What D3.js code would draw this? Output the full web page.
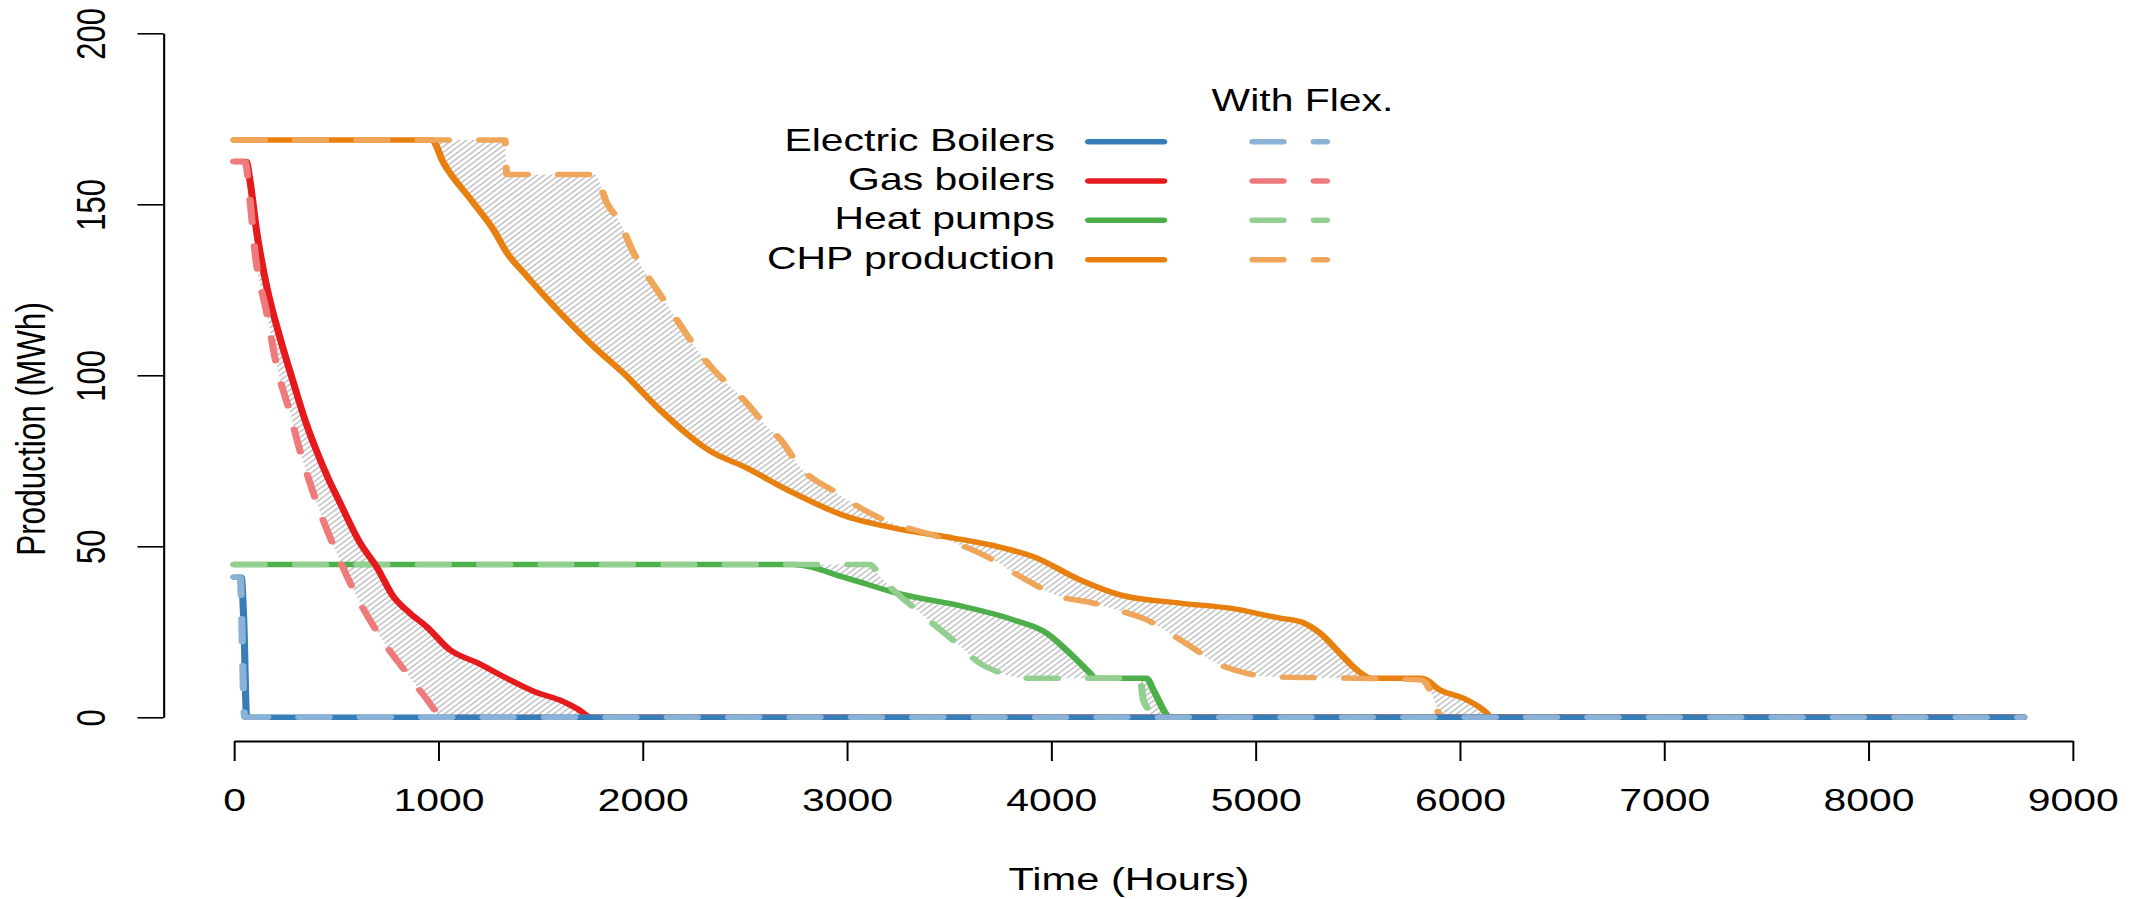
<!DOCTYPE html>
<html><head><meta charset="utf-8">
<script src="https://cdn.jsdelivr.net/npm/d3@7"></script>
<style>
body{margin:0;background:#fff}
svg{display:block;background:#fff}
text{font-family:"Liberation Sans",Arial,Helvetica,sans-serif;fill:#000}
</style>
</head><body>
<svg id="chart" width="2141" height="899"></svg>
<script>
// ---------------- data ----------------
const seriesNames = ["Electric Boilers", "Gas boilers", "Heat pumps", "CHP production"];
const flexTitle = "With Flex.";
const xTickValues = [0, 1000, 2000, 3000, 4000, 5000, 6000, 7000, 8000, 9000];
const yTickValues = [0, 50, 100, 150, 200];
const xTitle = "Time (Hours)";
const yTitle = "Production (MWh)";

// Electric boilers
const hoursEB      = [0, 35, 48, 62, 8760];
const ebBase       = [41, 41, 28, 0, 0];
const hoursEBFlex  = [0, 30, 52, 8760];
const ebFlex       = [41, 41, 0, 0];

// Gas boilers
const hoursGB      = [0, 60, 78, 111, 160, 225, 290, 350, 400, 460, 519, 617, 698, 780, 860, 943, 1057, 1188, 1351, 1470, 1596, 1680, 1750, 8760];
const gbBase       = [162.5, 162.5, 157, 142, 126, 111, 98, 86.5, 78.5, 70, 62.7, 51, 44, 35.3, 30.5, 26.5, 19.7, 16, 10.9, 7.5, 5, 2.5, 0, 0];
const hoursGBFlex  = [0, 54, 78, 103, 160, 209, 274, 318, 405, 503, 601, 715, 845, 992, 1005, 8760];
const gbFlex       = [162.5, 162.5, 151.5, 135.9, 118.3, 102.7, 89, 79, 62.7, 48, 35.3, 23.6, 12.9, 1.2, 0, 0];

// Heat pumps
const hoursHP      = [0, 2738, 2999, 3244, 3570, 3815, 3978, 4092, 4190, 4215, 4467, 4500, 4565, 4575, 8760];
const hpBase       = [44.7, 44.7, 40.7, 36.3, 32.4, 28.5, 24.6, 18.7, 12.9, 11.4, 11.4, 8, 0.7, 0, 0];
const hoursHPFlex  = [0, 3113, 3162, 3244, 3341, 3439, 3537, 3651, 3733, 3880, 4435, 4451, 4484, 4490, 8760];
const hpFlex       = [44.7, 44.7, 41.2, 36.3, 31.4, 26.5, 21.7, 15.8, 13.4, 11.4, 11.4, 5.1, 1.2, 0, 0];

// CHP production
const hoursCHP     = [0, 968, 1025, 1171, 1269, 1335, 1433, 1596, 1759, 1905, 2101, 2346, 2493, 2705, 2999, 3276, 3521, 3766, 3912, 4141, 4337, 4630, 4875, 5120, 5218, 5316, 5414, 5495, 5569, 5813, 5903, 6034, 6132, 6150, 8760];
const chpBase      = [168.8, 168.8, 162.2, 150.5, 142.7, 135.9, 129, 118.3, 108.5, 100.7, 89, 77.3, 73.4, 66.6, 58.7, 54.8, 52.4, 49.5, 47, 40.2, 35.8, 33.4, 31.9, 29, 28, 24.6, 18.7, 13.9, 11.4, 11.4, 8, 5.1, 1.2, 0, 0];
const hoursCHPFlex = [0, 1326, 1335, 1767, 1824, 1889, 1955, 2003, 2069, 2134, 2199, 2265, 2346, 2428, 2510, 2591, 2689, 2754, 2950, 3178, 3439, 3684, 3848, 4043, 4206, 4321, 4467, 4565, 4696, 4777, 4924, 5055, 5495, 5813, 5870, 5895, 5900, 8760];
const chpFlex      = [168.8, 168.8, 158.7, 158.7, 150.5, 144.7, 135.9, 131, 125.1, 119.3, 113.4, 107.6, 101.7, 96.8, 91.9, 86.1, 80.2, 74.4, 65.6, 57.8, 52.9, 47, 41.2, 35.3, 33.4, 31.4, 28.5, 25.1, 20.2, 16.8, 13.4, 11.9, 11.4, 10.9, 5.6, 1.2, 0, 0];

// ---------------- styling ----------------
const colBase = ["#377EB8", "#E41A1C", "#4DAF4A", "#E8800F"];
const colFlex = ["#8AB2D6", "#EF7A7C", "#94CF92", "#F0A65A"];
const SX = 1.32;               // horizontal stretch of the reference picture
const px = v => v / SX;        // pixel x -> drawing x
const LW = 5.4;
const DASH = "23,23.5";
const FONT = 31;

const zip = (h, v) => h.map((d, i) => [d, v[i]]);
const base = [zip(hoursEB, ebBase), zip(hoursGB, gbBase), zip(hoursHP, hpBase), zip(hoursCHP, chpBase)];
const flex = [zip(hoursEBFlex, ebFlex), zip(hoursGBFlex, gbFlex), zip(hoursHPFlex, hpFlex), zip(hoursCHPFlex, chpFlex)];

const svg = d3.select("#chart");
svg.append("rect").attr("width", 2141).attr("height", 899).attr("fill", "#fff");
const defs = svg.append("defs");
const pat = defs.append("pattern").attr("id", "hatch")
  .attr("patternUnits", "userSpaceOnUse").attr("width", 10).attr("height", 3.9)
  .attr("patternTransform", "rotate(-45)");
pat.append("line").attr("x1", -1).attr("x2", 11).attr("y1", 1.95).attr("y2", 1.95)
  .attr("stroke", "#b2b2b2").attr("stroke-width", 1.1);

const g = svg.append("g").attr("transform", `scale(${SX},1)`);

const x = d3.scaleLinear().domain([0, 9000]).range([px(234), px(2072.7)]);
const y = d3.scaleLinear().domain([0, 200]).range([717.3, 33.3]);
const line = d3.line().x(d => x(d[0])).y(d => y(d[1])).curve(d3.curveMonotoneX);

// hatched differences (gas, heat pumps, CHP)
[1, 2, 3].forEach(i => {
  const fwd = line(base[i]);
  const back = line(flex[i].slice().reverse()).replace(/^M/, "L");
  g.append("path").attr("d", fwd + back + "Z")
    .attr("fill", "url(#hatch)").attr("fill-rule", "evenodd").attr("stroke", "none");
});

// lines (drawn CHP first, electric boilers last)
[3, 2, 1, 0].forEach(i => {
  g.append("path").attr("d", line(base[i])).attr("fill", "none")
    .attr("stroke", colBase[i]).attr("stroke-width", LW)
    .attr("stroke-linecap", "round").attr("stroke-linejoin", "round");
  g.append("path").attr("d", line(flex[i])).attr("fill", "none")
    .attr("stroke", colFlex[i]).attr("stroke-width", LW)
    .attr("stroke-dasharray", DASH)
    .attr("stroke-linecap", "round").attr("stroke-linejoin", "round");
});

// axes
const xAxis = g.append("g").attr("transform", "translate(0,741)")
  .call(d3.axisBottom(x).tickValues(xTickValues).tickSize(20).tickSizeOuter(0).tickFormat(d3.format("d")));
xAxis.select(".domain").attr("stroke", "#000").attr("stroke-width", 1.8);
xAxis.selectAll(".tick line").attr("stroke", "#000").attr("stroke-width", 1.5);
xAxis.selectAll(".tick text").attr("y", 70.5).attr("dy", null)
  .attr("font-size", FONT).attr("fill", "#000");

const yAxis = g.append("g").attr("transform", `translate(${px(163.5)},0)`)
  .call(d3.axisLeft(y).tickValues(yTickValues).tickSize(px(26)).tickSizeOuter(0).tickFormat(d3.format("d")));
yAxis.select(".domain").attr("stroke", "#000").attr("stroke-width", 1.6);
yAxis.selectAll(".tick line").attr("stroke", "#000").attr("stroke-width", 1.6);
yAxis.selectAll(".tick text").attr("x", null).attr("dy", null)
  .attr("transform", `translate(${px(105) - px(163.5)},0) rotate(-90)`)
  .attr("text-anchor", "middle").attr("font-size", FONT).attr("fill", "#000");
svg.selectAll(".tick text").style("font-family", '"Liberation Sans",Arial,Helvetica,sans-serif');

// axis titles
g.append("text").attr("x", px(1129)).attr("y", 890).attr("text-anchor", "middle")
  .attr("font-size", 31.5).text(xTitle);
g.append("text").attr("transform", `translate(${px(45)},429) rotate(-90)`)
  .attr("text-anchor", "middle").attr("font-size", 31.5).text(yTitle);

// legend
const legRowY = [141.7, 181, 220.3, 259.7];
const leg = g.append("g");
leg.append("text").attr("x", px(1302.5)).attr("y", 111).attr("text-anchor", "middle")
  .attr("font-size", FONT).text(flexTitle);
seriesNames.forEach((name, i) => {
  const ry = legRowY[i];
  leg.append("text").attr("x", px(1055)).attr("y", ry + 9).attr("text-anchor", "end")
    .attr("font-size", FONT).text(name);
  leg.append("line").attr("x1", 824.7).attr("x2", 881.6).attr("y1", ry).attr("y2", ry)
    .attr("stroke", colBase[i]).attr("stroke-width", LW).attr("stroke-linecap", "round");
  leg.append("line").attr("x1", 949.1).attr("x2", 1004.9).attr("y1", ry).attr("y2", ry)
    .attr("stroke", colFlex[i]).attr("stroke-width", LW).attr("stroke-linecap", "round")
    .attr("stroke-dasharray", DASH);
});
</script>
</body></html>
